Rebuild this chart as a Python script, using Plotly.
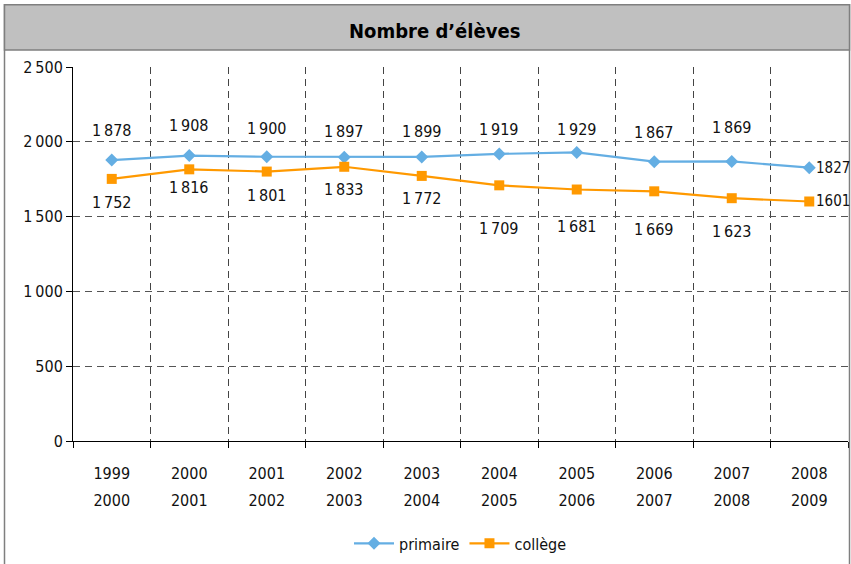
import plotly.graph_objects as go

# ---- data ----
years_start = ["1999", "2000", "2001", "2002", "2003", "2004", "2005", "2006", "2007", "2008"]
years_end = ["2000", "2001", "2002", "2003", "2004", "2005", "2006", "2007", "2008", "2009"]
primaire = [1878, 1908, 1900, 1897, 1899, 1919, 1929, 1867, 1869, 1827]
college = [1752, 1816, 1801, 1833, 1772, 1709, 1681, 1669, 1623, 1601]
y_ticks = [0, 500, 1000, 1500, 2000, 2500]

# label offsets (px, positive = up)
primaire_dy = [30, 30, 28, 26, 25, 24, 23, 29, 34, 0]
college_dy = [-24, -18, -24, -23, -23, -43, -37, -38, -33, 0]

W, H = 851, 564
ML, MR, MT, MB = 73, 3, 67, 121
PW, PH = W - ML - MR, H - MT - MB

def px(x):
    return (x - ML) / PW

def py(y):
    return (H - MB - y) / PH

FONT = "Liberation Sans Narrow, DejaVu Sans Condensed, Arial Narrow, sans-serif"
BLUE = "#64aee3"
ORANGE = "#ff9900"

cats = [f"{a}<br>{b}" for a, b in zip(years_start, years_end)]

def fmt(v):
    return f"{v:,}".replace(",", "\u2009")

fig = go.Figure()
fig.add_trace(go.Scatter(x=cats, y=primaire, name="primaire", mode="lines+markers",
                         line=dict(color=BLUE, width=2.2),
                         marker=dict(symbol="diamond", size=10, color=BLUE)))
fig.add_trace(go.Scatter(x=cats, y=college, name="collège", mode="lines+markers",
                         line=dict(color=ORANGE, width=2.2),
                         marker=dict(symbol="square", size=10, color=ORANGE)))

ann = []
n = len(cats)
for series, offs in ((primaire, primaire_dy), (college, college_dy)):
    for i, (c, v, dy) in enumerate(zip(cats, series, offs)):
        last = i == n - 1
        ann.append(dict(x=c, y=v, xref="x", yref="y", text=(str(v) if last else fmt(v)),
                        showarrow=False, yshift=dy, xshift=(5 if last else 0),
                        xanchor=("left" if last else "center"), yanchor="middle",
                        font=dict(family=FONT, size=(15 if last else 16), color="#111")))

# title
ann.append(dict(x=px(434), y=py(31), xref="paper", yref="paper", text="<b>Nombre d’élèves</b>",
                showarrow=False, xanchor="center", yanchor="middle",
                font=dict(family=FONT, size=20, color="#000")))

shapes = [
    dict(type="rect", xref="paper", yref="paper", x0=px(4.5), x1=px(849.5), y0=py(4.5), y1=py(580),
         line=dict(color="#7f7f7f", width=1.5), fillcolor="rgba(0,0,0,0)", layer="above"),
    dict(type="rect", xref="paper", yref="paper", x0=px(4.5), x1=px(849.5), y0=py(4.5), y1=py(50),
         line=dict(color="#7f7f7f", width=1.5), fillcolor="#c0c0c0", layer="above"),
]

ticktext = [f'<span style="font-size:16px">{a}</span><br><span style="font-size:16px">{b}</span>'
            for a, b in zip(years_start, years_end)]

fig.update_layout(
    width=W, height=H,
    margin=dict(l=ML, r=MR, t=MT, b=MB, pad=0),
    paper_bgcolor="white", plot_bgcolor="white",
    font=dict(family=FONT, size=16, color="#111"),
    showlegend=True,
    legend=dict(orientation="h", x=0.5, xanchor="center", y=py(546), yanchor="middle",
                font=dict(family=FONT, size=16, color="#111"), itemwidth=40,
                bgcolor="rgba(0,0,0,0)"),
    annotations=ann,
    shapes=shapes,
)
fig.update_xaxes(
    type="category", tickson="boundaries", showgrid=True, gridcolor="#444",
    griddash="7px,5px", gridwidth=1, ticks="outside", ticklen=6, tickcolor="#000",
    showline=True, linecolor="#000", linewidth=1,
    tickvals=cats, ticktext=ticktext, tickfont=dict(family=FONT, size=20.8, color="#111"),
    ticklabelstandoff=12,
    range=[-0.5, 9.5], fixedrange=True,
)
fig.update_yaxes(
    range=[0, 2500], tickvals=y_ticks, ticktext=[fmt(v) for v in y_ticks],
    showgrid=True, gridcolor="#555", griddash="7px,5px", gridwidth=1,
    ticks="outside", ticklen=6, tickcolor="#000",
    showline=True, linecolor="#000", linewidth=1,
    zeroline=True, zerolinecolor="#000", zerolinewidth=1,
    tickfont=dict(family=FONT, size=16, color="#111"), fixedrange=True,
)

fig.write_html("out.html", config={"displayModeBar": False},
               post_script="document.body.style.margin='0';document.body.style.overflow='hidden';")
